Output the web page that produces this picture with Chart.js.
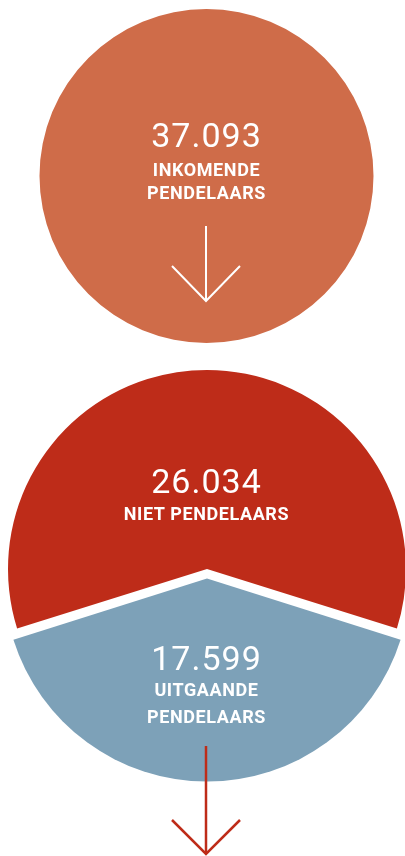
<!DOCTYPE html>
<html>
<head>
<meta charset="utf-8">
<script src="https://cdn.jsdelivr.net/npm/chart.js@4/dist/chart.umd.min.js"></script>
<style>
  html, body { margin: 0; padding: 0; background: #fff; overflow: hidden; width: 405px; height: 856px; }
  .wrap { position: relative; width: 405px; height: 856px; }
  canvas { position: absolute; }
  .lbl { position: absolute; left: 0; width: 413px; text-align: center; color: #fff;
         font-family: Roboto, "DejaVu Sans", sans-serif; white-space: nowrap; }
  .num { font-size: 34px; line-height: 34px; font-weight: 400; letter-spacing: 1px; }
  .cap { font-size: 18px; line-height: 18px; font-weight: 700; letter-spacing: 0.6px; }
  svg { position: absolute; left: 0; top: 0; }
</style>
</head>
<body>
<div class="wrap">
  <canvas id="inChart" width="405" height="352" style="left:4px;top:0"></canvas>
  <canvas id="splitChart" width="414" height="438" style="left:0;top:350px"></canvas>

  <div class="lbl num" style="top:118px">37.093</div>
  <div class="lbl cap" style="top:161px">INKOMENDE</div>
  <div class="lbl cap" style="top:184px">PENDELAARS</div>

  <div class="lbl num" style="top:464px">26.034</div>
  <div class="lbl cap" style="top:505px">NIET PENDELAARS</div>

  <div class="lbl num" style="top:641px">17.599</div>
  <div class="lbl cap" style="top:681px">UITGAANDE</div>
  <div class="lbl cap" style="top:708px">PENDELAARS</div>

  <svg width="405" height="856">
    <g fill="none" stroke="#fff" stroke-width="2">
      <line x1="206" y1="226" x2="206" y2="301"/>
      <polyline points="172,266 206,301 240,266"/>
    </g>
    <g fill="none" stroke="#BE2C19" stroke-width="2.5">
      <line x1="206" y1="746" x2="206" y2="854"/>
      <polyline points="172,820 206,854 240,820"/>
    </g>
  </svg>
</div>

<script>
// inwoners / pendelaars
const inLabels    = ['Inkomende pendelaars'];
const inValues    = [37093];
const splitLabels = ['Niet pendelaars', 'Uitgaande pendelaars'];
const splitValues = [26034, 17599];

const ORANGE = '#CF6C49';
const RED    = '#BE2C19';
const BLUE   = '#7DA1B8';

const baseOpts = {
  responsive: false,
  animation: false,
  events: [],
  plugins: { legend: { display: false }, tooltip: { enabled: false } }
};

// bovenste cirkel
new Chart(document.getElementById('inChart').getContext('2d'), {
  type: 'pie',
  data: {
    labels: inLabels,
    datasets: [{ data: inValues, backgroundColor: [ORANGE], borderWidth: 0, clip: false }]
  },
  options: { ...baseOpts, radius: 167 }
});

// onderste cirkel: rood bovenaan gecentreerd, blauw onderaan iets naar buiten
const total = splitValues.reduce((a, b) => a + b, 0);
new Chart(document.getElementById('splitChart').getContext('2d'), {
  type: 'pie',
  data: {
    labels: splitLabels,
    datasets: [{
      data: splitValues,
      backgroundColor: [RED, BLUE],
      borderWidth: 0,
      offset: [0, 38],
      clip: false
    }]
  },
  options: { ...baseOpts, radius: 199, rotation: -180 * splitValues[0] / total }
});
</script>
</body>
</html>
